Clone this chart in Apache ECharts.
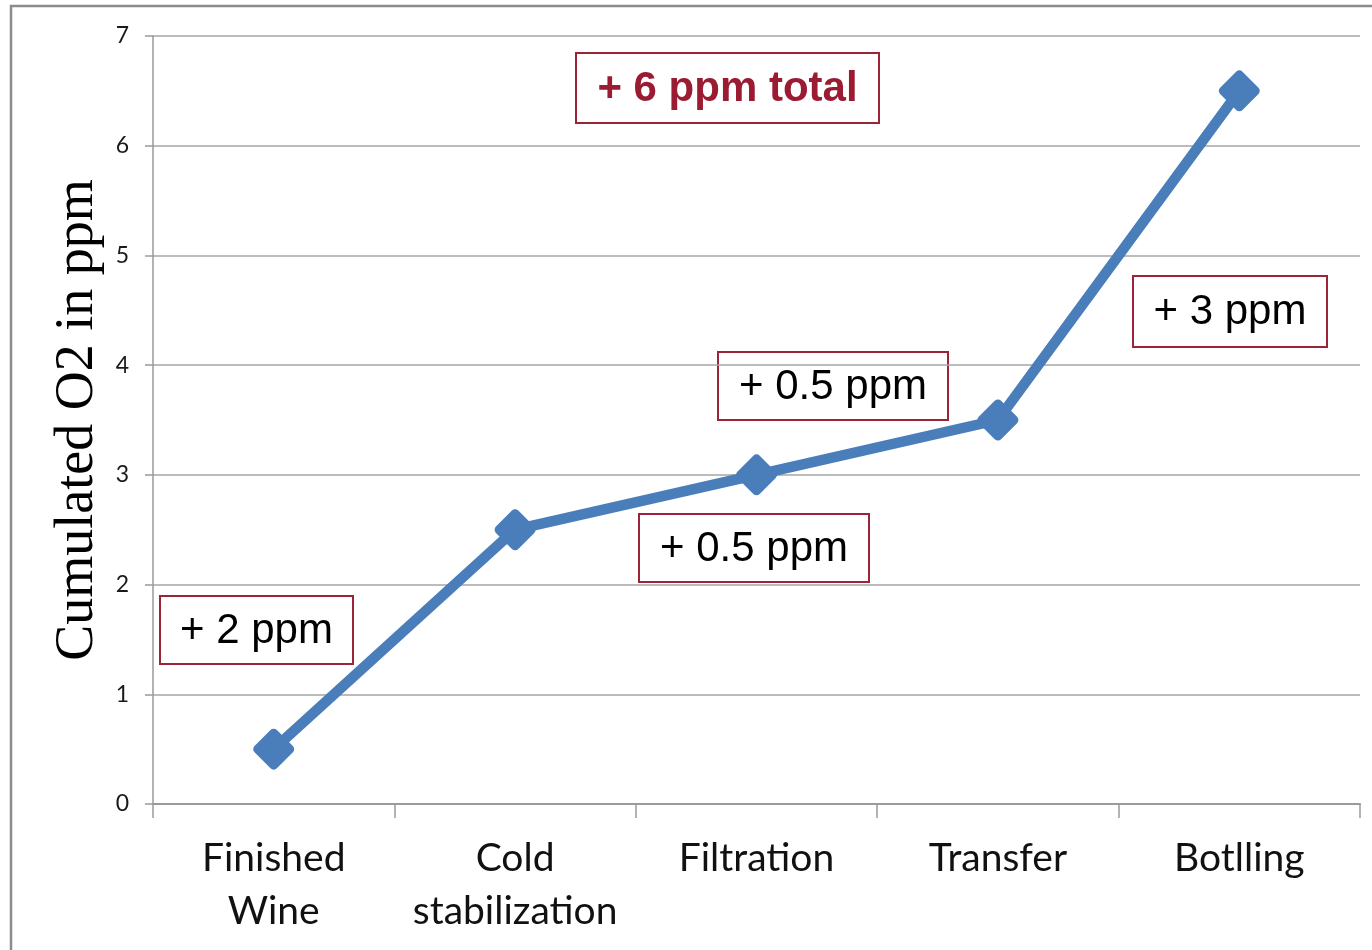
<!DOCTYPE html>
<html>
<head>
<meta charset="utf-8">
<style>
  html, body { margin: 0; padding: 0; background: #fff; }
  #chart { width: 1372px; height: 950px; }
</style>
<script src="https://cdn.jsdelivr.net/npm/echarts@6/dist/echarts.min.js"></script>
</head>
<body>
<div id="chart"></div>
<script>
// Process steps and cumulated dissolved oxygen (ppm)
const steps = ['Finished\nWine', 'Cold\nstabilization', 'Filtration', 'Transfer', 'Botlling'];
const cumulatedO2 = [0.5, 2.5, 3, 3.5, 6.5];
const yTicks = { min: 0, max: 7, interval: 1 };

// Step increments written in the callout boxes
const callouts = [
  { text: '+ 6 ppm total', bold: true,  box: [576, 53, 303, 70] },
  { text: '+ 3 ppm',       bold: false, box: [1133, 276, 194, 71] },
  { text: '+ 0.5 ppm',     bold: false, box: [718, 352, 230, 68] },
  { text: '+ 0.5 ppm',     bold: false, box: [639, 514, 230, 68] },
  { text: '+ 2 ppm',       bold: false, box: [160, 596, 193, 68] }
];

const chart = echarts.init(document.getElementById('chart'), null, { renderer: 'canvas' });

const calloutGraphics = callouts.map(c => ({
  type: 'group',
  x: c.box[0],
  y: c.box[1],
  z: 100,
  children: [
    {
      type: 'rect',
      shape: { x: 0, y: 0, width: c.box[2], height: c.box[3] },
      style: { fill: '#ffffff', stroke: '#9c2438', lineWidth: 2 }
    },
    {
      type: 'text',
      x: c.box[2] / 2,
      y: c.box[3] / 2 + 1,
      style: {
        text: c.text,
        fontFamily: '"Liberation Sans", Arial, sans-serif',
        fontSize: 42,
        fontWeight: c.bold ? 'bold' : 'normal',
        fill: c.bold ? '#9b1b33' : '#000000',
        align: 'center',
        verticalAlign: 'middle'
      }
    }
  ]
}));

chart.setOption({
  animation: false,
  backgroundColor: '#ffffff',
  grid: { left: 153, right: 12, top: 36, bottom: 146, containLabel: false },
  xAxis: {
    type: 'category',
    data: steps,
    boundaryGap: true,
    axisLine: { show: true, lineStyle: { color: '#9a9a9a', width: 2 } },
    axisTick: { show: true, length: 14, interval: 0, lineStyle: { color: '#9a9a9a', width: 1.5 } },
    axisLabel: {
      interval: 0,
      margin: 28,
      fontFamily: 'Lato, "Open Sans", sans-serif',
      fontSize: 39,
      lineHeight: 53,
      color: '#111111'
    },
    splitLine: { show: false }
  },
  yAxis: {
    type: 'value',
    min: yTicks.min,
    max: yTicks.max,
    interval: yTicks.interval,
    name: 'Cumulated O2 in ppm',
    nameLocation: 'middle',
    nameRotate: 90,
    nameGap: 45,
    nameTextStyle: {
      fontFamily: '"Liberation Serif", "Times New Roman", serif',
      fontSize: 54,
      color: '#000000'
    },
    axisLine: { show: true, lineStyle: { color: '#9a9a9a', width: 1.5 } },
    axisTick: { show: true, length: 8, inside: false, lineStyle: { color: '#9a9a9a', width: 1.5 } },
    axisLabel: {
      margin: 24,
      fontFamily: 'Lato, "Open Sans", sans-serif',
      fontSize: 23,
      color: '#1a1a1a'
    },
    splitLine: { show: true, lineStyle: { color: '#a6a6a6', width: 1.5 } }
  },
  series: [{
    type: 'line',
    data: cumulatedO2,
    symbol: 'diamond',
    symbolSize: 32,
    itemStyle: {
      color: '#4a7ebb',
      borderColor: '#4a7ebb',
      borderWidth: 9,
      borderJoin: 'round'
    },
    lineStyle: { color: '#4a7ebb', width: 10.5 },
    z: 5
  }],
  graphic: [
    {
      type: 'rect',
      shape: { x: 11, y: 6, width: 1500, height: 1100 },
      style: { fill: 'none', stroke: '#8c8c8c', lineWidth: 2.5 },
      silent: true,
      z: 0
    }
  ].concat(calloutGraphics)
});
</script>
</body>
</html>
